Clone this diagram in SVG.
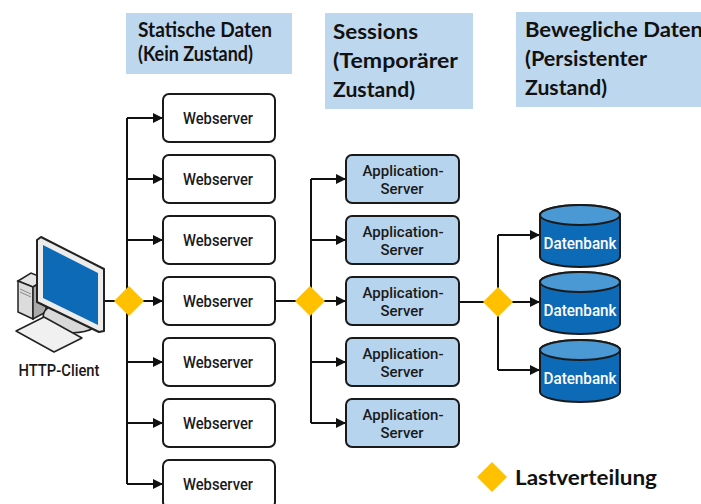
<svg xmlns="http://www.w3.org/2000/svg" width="701" height="504" viewBox="0 0 701 504">
  <style>
    .hdr { fill: #bdd7ee; }
    .hdrtxt { font-family: Lato, "Liberation Sans", sans-serif; font-weight: bold; font-size: 20px; fill: #111; }
    .web { fill: #ffffff; stroke: #1a1a1a; stroke-width: 2; }
    .app { fill: #b7d4ee; stroke: #1a1a1a; stroke-width: 2; }
    .lbl { font-family: Roboto, "Liberation Sans", sans-serif; font-size: 17px; font-weight: 500; fill: #1a1a1a; text-anchor: middle; }
    .lbl2 { font-family: Roboto, "Liberation Sans", sans-serif; font-size: 15.5px; font-weight: 500; fill: #1a1a1a; text-anchor: middle; }
    .dblbl { font-family: Roboto, "Liberation Sans", sans-serif; font-size: 17px; fill: #ffffff; text-anchor: middle; font-weight: 500; }
    .wire { fill: none; stroke: #111; stroke-width: 2; }
    .lb { fill: #ffc000; }
    .dbbody { fill: #0d6ab7; stroke: #1a1a1a; stroke-width: 2; }
    .dbtop { fill: #4a98d4; stroke: #1a1a1a; stroke-width: 2; }
  </style>
  <defs>
    <marker id="arrow" viewBox="0 0 10 10" refX="10" refY="5" markerWidth="5.5" markerHeight="5" markerUnits="strokeWidth" orient="auto">
      <path d="M0,0 L10,5 L0,10 Z" fill="#111"/>
    </marker>
    <path id="diamond" d="M0,-15 L15,0 L0,15 L-15,0 Z"/>
  </defs>

  <rect width="701" height="504" fill="#ffffff"/>

  <!-- column headers -->
  <g id="hdr-static">
    <rect class="hdr" x="126" y="13" width="166" height="61"/>
    <text class="hdrtxt" x="138" y="37" textLength="134" lengthAdjust="spacingAndGlyphs">Statische Daten</text>
    <text class="hdrtxt" x="138" y="61" textLength="115" lengthAdjust="spacingAndGlyphs">(Kein Zustand)</text>
  </g>
  <g id="hdr-sessions">
    <rect class="hdr" x="325" y="13" width="148" height="96"/>
    <text class="hdrtxt" x="333" y="39" textLength="85" lengthAdjust="spacingAndGlyphs">Sessions</text>
    <text class="hdrtxt" x="333" y="68" textLength="125" lengthAdjust="spacingAndGlyphs">(Temporärer</text>
    <text class="hdrtxt" x="333" y="97" textLength="82" lengthAdjust="spacingAndGlyphs">Zustand)</text>
  </g>
  <g id="hdr-data">
    <rect class="hdr" x="516" y="12" width="185" height="95"/>
    <text class="hdrtxt" x="525" y="37" textLength="178" lengthAdjust="spacingAndGlyphs">Bewegliche Daten</text>
    <text class="hdrtxt" x="525" y="66" textLength="122" lengthAdjust="spacingAndGlyphs">(Persistenter</text>
    <text class="hdrtxt" x="525" y="95" textLength="82" lengthAdjust="spacingAndGlyphs">Zustand)</text>
  </g>

  <!-- connectors -->
  <g id="connectors">
    <path class="wire" d="M100,301 H163" marker-end="url(#arrow)"/>
    <path class="wire" d="M127,118 V484"/>
    <path class="wire" d="M127,118 H163" marker-end="url(#arrow)"/>
    <path class="wire" d="M127,179 H163" marker-end="url(#arrow)"/>
    <path class="wire" d="M127,240 H163" marker-end="url(#arrow)"/>
    <path class="wire" d="M127,362 H163" marker-end="url(#arrow)"/>
    <path class="wire" d="M127,423 H163" marker-end="url(#arrow)"/>
    <path class="wire" d="M127,484 H163" marker-end="url(#arrow)"/>

    <path class="wire" d="M275,301 H346" marker-end="url(#arrow)"/>
    <path class="wire" d="M311,179 V423"/>
    <path class="wire" d="M311,179 H346" marker-end="url(#arrow)"/>
    <path class="wire" d="M311,240 H346" marker-end="url(#arrow)"/>
    <path class="wire" d="M311,362 H346" marker-end="url(#arrow)"/>
    <path class="wire" d="M311,423 H346" marker-end="url(#arrow)"/>

    <path class="wire" d="M459,302 H540" marker-end="url(#arrow)"/>
    <path class="wire" d="M498,235 V370"/>
    <path class="wire" d="M498,235 H540" marker-end="url(#arrow)"/>
    <path class="wire" d="M498,370 H540" marker-end="url(#arrow)"/>
  </g>

  <!-- load balancers -->
  <g id="lb-web"><use href="#diamond" class="lb" x="129" y="301"/></g>
  <g id="lb-app"><use href="#diamond" class="lb" x="310" y="301"/></g>
  <g id="lb-db"><use href="#diamond" class="lb" x="498" y="302"/></g>

  <!-- client -->
  <g id="client">
    <polygon points="18,281 31,273 46,279 33,287" fill="#e6e6e6" stroke="#222" stroke-width="1.5"/>
    <polygon points="18,281 33,287 33,319 18,312" fill="#dcdcdc" stroke="#222" stroke-width="1.5"/>
    <polygon points="33,287 46,279 46,312 33,319" fill="#a9a9a9" stroke="#222" stroke-width="1.5"/>
    <path d="M20,289 L31,294 M20,292 L31,297" stroke="#888" stroke-width="1"/>
    <path d="M52,305 A24,13 0 0 0 94,328 L94,318 Z" fill="#d9d9d9" stroke="#222" stroke-width="1.5"/>
    <polygon points="37,240 41,237 104,269 104,331 99,332 37,302" fill="#ececec" stroke="#222" stroke-width="2" stroke-linejoin="round"/>
    <polygon points="43,245 98,273 98,325 43,298" fill="#0d6ab7"/>
    <polygon points="16,331 44,317 82,338 54,352" fill="#f0f0f0" stroke="#222" stroke-width="1.5" stroke-linejoin="round"/>
    <text class="lbl" x="59" y="376" textLength="81" lengthAdjust="spacingAndGlyphs">HTTP-Client</text>
  </g>

  <!-- web servers -->
  <g id="web1"><rect class="web" x="163" y="94" width="112" height="48" rx="6"/><text class="lbl" x="218" y="124" textLength="70" lengthAdjust="spacingAndGlyphs">Webserver</text></g>
  <g id="web2"><rect class="web" x="163" y="155" width="112" height="48" rx="6"/><text class="lbl" x="218" y="185" textLength="70" lengthAdjust="spacingAndGlyphs">Webserver</text></g>
  <g id="web3"><rect class="web" x="163" y="216" width="112" height="48" rx="6"/><text class="lbl" x="218" y="246" textLength="70" lengthAdjust="spacingAndGlyphs">Webserver</text></g>
  <g id="web4"><rect class="web" x="163" y="277" width="112" height="48" rx="6"/><text class="lbl" x="218" y="307" textLength="70" lengthAdjust="spacingAndGlyphs">Webserver</text></g>
  <g id="web5"><rect class="web" x="163" y="338" width="112" height="48" rx="6"/><text class="lbl" x="218" y="368" textLength="70" lengthAdjust="spacingAndGlyphs">Webserver</text></g>
  <g id="web6"><rect class="web" x="163" y="399" width="112" height="48" rx="6"/><text class="lbl" x="218" y="429" textLength="70" lengthAdjust="spacingAndGlyphs">Webserver</text></g>
  <g id="web7"><rect class="web" x="163" y="460" width="112" height="48" rx="6"/><text class="lbl" x="218" y="490" textLength="70" lengthAdjust="spacingAndGlyphs">Webserver</text></g>

  <!-- application servers -->
  <g id="app1"><rect class="app" x="346" y="155" width="113" height="48" rx="6"/><text class="lbl2" x="403" y="176" textLength="81" lengthAdjust="spacingAndGlyphs">Application-</text><text class="lbl2" x="402" y="194" textLength="43" lengthAdjust="spacingAndGlyphs">Server</text></g>
  <g id="app2"><rect class="app" x="346" y="216" width="113" height="48" rx="6"/><text class="lbl2" x="403" y="237" textLength="81" lengthAdjust="spacingAndGlyphs">Application-</text><text class="lbl2" x="402" y="255" textLength="43" lengthAdjust="spacingAndGlyphs">Server</text></g>
  <g id="app3"><rect class="app" x="346" y="277" width="113" height="48" rx="6"/><text class="lbl2" x="403" y="298" textLength="81" lengthAdjust="spacingAndGlyphs">Application-</text><text class="lbl2" x="402" y="316" textLength="43" lengthAdjust="spacingAndGlyphs">Server</text></g>
  <g id="app4"><rect class="app" x="346" y="338" width="113" height="48" rx="6"/><text class="lbl2" x="403" y="359" textLength="81" lengthAdjust="spacingAndGlyphs">Application-</text><text class="lbl2" x="402" y="377" textLength="43" lengthAdjust="spacingAndGlyphs">Server</text></g>
  <g id="app5"><rect class="app" x="346" y="399" width="113" height="48" rx="6"/><text class="lbl2" x="403" y="420" textLength="81" lengthAdjust="spacingAndGlyphs">Application-</text><text class="lbl2" x="402" y="438" textLength="43" lengthAdjust="spacingAndGlyphs">Server</text></g>

  <!-- databases -->
  <g id="db1">
    <path class="dbbody" d="M540,215 A40,10 0 0 1 620,215 V257 A40,10 0 0 1 540,257 Z"/>
    <ellipse class="dbtop" cx="580" cy="215" rx="40" ry="10"/>
    <text class="dblbl" x="580" y="249" textLength="73" lengthAdjust="spacingAndGlyphs">Datenbank</text>
  </g>
  <g id="db2">
    <path class="dbbody" d="M540,282 A40,10 0 0 1 620,282 V324 A40,10 0 0 1 540,324 Z"/>
    <ellipse class="dbtop" cx="580" cy="282" rx="40" ry="10"/>
    <text class="dblbl" x="580" y="316" textLength="73" lengthAdjust="spacingAndGlyphs">Datenbank</text>
  </g>
  <g id="db3">
    <path class="dbbody" d="M540,350 A40,10 0 0 1 620,350 V392 A40,10 0 0 1 540,392 Z"/>
    <ellipse class="dbtop" cx="580" cy="350" rx="40" ry="10"/>
    <text class="dblbl" x="580" y="384" textLength="73" lengthAdjust="spacingAndGlyphs">Datenbank</text>
  </g>

  <!-- legend -->
  <g id="legend">
    <use href="#diamond" class="lb" x="492" y="477"/>
    <text class="hdrtxt" x="515" y="485" textLength="142" lengthAdjust="spacingAndGlyphs">Lastverteilung</text>
  </g>
</svg>
